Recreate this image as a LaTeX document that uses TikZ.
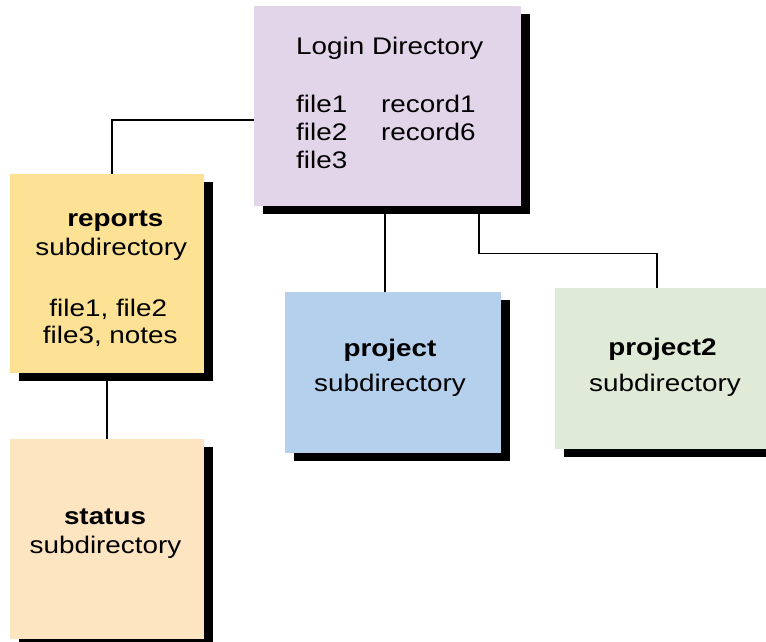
\documentclass[tikz,border=0pt]{standalone}
\usepackage{fontspec}
\setmainfont[FakeStretch=1.16]{Liberation Sans}
\usetikzlibrary{shadows}
\definecolor{loginc}{RGB}{227,213,233}
\definecolor{reportsc}{RGB}{253,225,148}
\definecolor{statusc}{RGB}{253,229,193}
\definecolor{projectc}{RGB}{181,208,236}
\definecolor{projecttwoc}{RGB}{224,235,215}
\tikzset{
  dirbox/.style={rectangle, inner sep=0pt, draw=none, fill=#1,
    drop shadow={shadow xshift=9pt, shadow yshift=-8pt, fill=black, opacity=1}},
  txt/.style={inner sep=0pt, font=\fontsize{24}{28}\selectfont},
  link/.style={line width=1.3pt, black},
}
\begin{document}
\begin{tikzpicture}[x=1pt,y=-1pt]
\path[use as bounding box] (0,0) rectangle (766,641);
\clip (0,0) rectangle (766,641);
% boxes
\node[dirbox=loginc, minimum width=267pt, minimum height=200pt] (login) at (387.5,106) {};
\node[dirbox=reportsc, minimum width=194pt, minimum height=199pt] (reports) at (107,273.5) {};
\node[dirbox=statusc, minimum width=194pt, minimum height=200pt] (status) at (107,539) {};
\node[dirbox=projectc, minimum width=216pt, minimum height=161pt] (project) at (393,372.5) {};
\node[dirbox=projecttwoc, minimum width=216pt, minimum height=161pt] (project2) at (663,368.5) {};
% texts
\node[txt, anchor=base west] (lt) at (296,54) {Login Directory};
\node[txt, anchor=base west] (lf1) at (296,112.7) {file1};
\node[txt, anchor=base west] (lf2) at (296,140.5) {file2};
\node[txt, anchor=base west] (lf3) at (296,168.3) {file3};
\node[txt, anchor=base west] (lr1) at (381,112.7) {record1};
\node[txt, anchor=base west] (lr6) at (381,140.5) {record6};
\node[txt, anchor=base] (rt) at (115.3,226.7) {\bfseries reports};
\node[txt, anchor=base] (rs) at (111.3,255) {subdirectory};
\node[txt, anchor=base] (rf1) at (108.3,316.7) {file1, file2};
\node[txt, anchor=base] (rf3) at (110.3,343.5) {file3, notes};
\node[txt, anchor=base] (st) at (105,524.3) {\bfseries status};
\node[txt, anchor=base] (ss) at (105.5,553) {subdirectory};
\node[txt, anchor=base] (pt) at (390,356) {\bfseries project};
\node[txt, anchor=base] (ps) at (390,391.7) {subdirectory};
\node[txt, anchor=base] (p2t) at (662.5,355) {\bfseries project2};
\node[txt, anchor=base] (p2s) at (665,391.7) {subdirectory};
% connectors
\coordinate (c1) at (112,120);
\coordinate (c2) at (385,0);
\coordinate (c3) at (479,253.3);
\coordinate (c4) at (657,253.3);
\draw[link] (login.west |- c1) -- (c1) -- (c1 |- reports.north);
\draw[link] (reports.south) -- (status.north);
\draw[link] (login.south -| c2) -- (project.north -| c2);
\draw[link] (login.south -| c3) -- (c3) -- (c4) -- (c4 |- project2.north);
\end{tikzpicture}
\end{document}
